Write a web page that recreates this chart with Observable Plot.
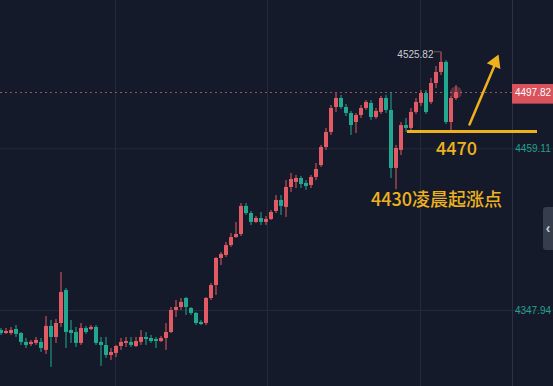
<!DOCTYPE html>
<html><head><meta charset="utf-8">
<script src="https://cdn.jsdelivr.net/npm/d3@7"></script>
<script src="https://cdn.jsdelivr.net/npm/@observablehq/plot@0.6"></script>
<style>
html,body{margin:0;padding:0;background:#141a29;overflow:hidden;}
#chart svg{display:block;}
</style></head><body><div id="chart"></div>
<script>
// OHLC candles (one per bar, left to right)
const open = [4334.2,4332.1,4332.1,4334.9,4332.1,4326.0,4324.6,4325.3,4326.0,4320.5,
4337.0,4329.4,4339.0,4361.7,4334.2,4332.8,4325.3,4335.6,4334.9,4336.3,
4326.0,4323.9,4317.0,4318.4,4323.2,4325.3,4326.0,4323.2,4326.0,4329.4,
4328.7,4328.0,4326.6,4328.7,4332.8,4348.0,4350.0,4356.2,4349.3,4345.9,
4339.7,4339.0,4356.2,4365.1,4383.7,4385.8,4392.6,4398.1,4400.2,4419.5,
4414.6,4408.5,4411.2,4408.5,4410.5,4416.0,4423.6,4418.8,4432.5,4436.0,
4438.7,4435.3,4433.9,4439.4,4447.6,4460.0,4470.3,4487.5,4493.7,4487.5,
4483.4,4477.2,4482.0,4486.8,4490.3,4480.6,4484.1,4493.7,4485.5,4445.6,
4458.0,4475.1,4473.1,4484.1,4490.3,4497.1,4491.0,4504.0,4511.6,4518.5,
4477.2,4493.7];
const close = [4332.1,4333.5,4334.2,4331.5,4326.0,4323.9,4326.0,4327.3,4321.8,4337.0,
4329.4,4339.0,4360.3,4332.8,4332.1,4325.3,4335.6,4332.8,4336.3,4325.3,
4323.9,4317.0,4319.1,4323.2,4326.0,4326.6,4323.9,4326.6,4329.4,4328.0,
4326.6,4326.6,4328.7,4332.8,4348.0,4350.0,4353.5,4350.0,4345.9,4339.0,
4338.3,4356.2,4365.1,4383.7,4386.5,4392.6,4398.1,4400.2,4419.5,4414.6,
4408.5,4411.2,4408.5,4410.5,4415.3,4423.6,4419.5,4432.5,4438.0,4438.7,
4434.6,4433.2,4439.4,4444.9,4460.0,4470.3,4486.8,4493.7,4487.5,4483.4,
4475.1,4482.0,4486.8,4491.0,4480.6,4484.8,4493.7,4485.5,4445.6,4459.3,
4475.1,4473.1,4484.1,4491.0,4497.1,4484.1,4504.0,4511.6,4518.5,4477.2,
4493.7,4497.82];
const high = [4335.6,4335.6,4336.3,4337.6,4332.8,4328.7,4327.3,4329.4,4328.7,4343.8,
4341.1,4341.8,4374.1,4363.1,4341.1,4336.3,4339.0,4337.0,4337.6,4337.6,
4329.4,4329.4,4321.8,4323.9,4328.7,4329.4,4329.4,4329.4,4334.2,4332.8,
4330.8,4329.4,4330.1,4339.0,4350.0,4354.8,4356.2,4356.9,4350.0,4346.6,
4341.1,4356.9,4366.5,4384.4,4387.8,4394.7,4400.9,4408.5,4421.5,4421.5,
4416.0,4412.6,4415.3,4412.6,4416.7,4427.0,4427.0,4437.3,4442.1,4440.8,
4440.1,4437.3,4440.8,4449.0,4461.4,4473.1,4488.9,4497.1,4495.8,4489.6,
4484.8,4483.4,4488.9,4492.3,4492.3,4486.8,4495.1,4495.8,4497.8,4461.4,
4477.2,4480.0,4486.8,4493.7,4499.2,4499.2,4507.5,4515.7,4525.82,4519.8,
4495.1,4502.6];
const low = [4330.8,4331.5,4330.8,4329.4,4323.9,4321.8,4323.2,4323.9,4319.1,4317.7,
4308.8,4325.3,4336.3,4321.8,4325.3,4322.5,4323.9,4331.5,4334.2,4323.9,
4309.5,4315.0,4313.6,4315.6,4320.5,4322.5,4322.5,4322.5,4323.9,4323.9,
4325.3,4321.8,4326.0,4320.5,4332.1,4343.1,4348.0,4344.5,4344.5,4337.6,
4337.6,4337.6,4354.8,4358.3,4378.9,4384.4,4391.3,4397.5,4398.8,4413.3,
4406.4,4407.8,4406.4,4406.4,4409.8,4414.6,4413.3,4411.9,4429.1,4431.8,
4431.8,4430.5,4431.8,4437.3,4446.3,4458.0,4468.3,4484.1,4486.1,4481.3,
4468.3,4469.6,4480.0,4485.5,4478.6,4479.3,4482.7,4483.4,4438.7,4431.0,
4454.5,4470.3,4471.0,4482.7,4488.2,4482.7,4489.6,4500.6,4509.5,4475.8,
4471.7,4492.3];

// axis / annotation values
const priceTicks = [4459.11, 4347.94];
const priceTickLabels = ["4459.11", "4347.94"];
const lastPrice = 4497.82;
const lastPriceLabel = "4497.82";
const highPrice = 4525.82;
const highLabel = "4525.82";
const timeGrid = [22.9, 53.3, 83.9];
const supportLevel = 4471;
const supportLabel = "4470";
const noteLabel = "4430凌晨起涨点";

const BG = "#141a29", UP = "#e25a63", DOWN = "#22a890", GOLD = "#efb21f";
const X0 = -0.1, X1 = 110.5, AXIS_X = 102.3, LABEL_X = 106.4;

const candles = open.map((o, i) => ({i, o, c: close[i], h: high[i], l: low[i]}));
const ups = candles.filter(d => d.c >= d.o);
const downs = candles.filter(d => d.c < d.o);
const last = candles[candles.length - 1];
const hiBar = candles.find(d => d.h === highPrice);

const chart = Plot.plot({
  width: 553, height: 386, margin: 0,
  x: {domain: [X0, X1], axis: null},
  y: {domain: [4295.69, 4561.07], axis: null},
  style: {background: BG, fontFamily: "'Liberation Sans', Arial, sans-serif", overflow: "hidden"},
  marks: [
    Plot.ruleY(priceTicks, {stroke: "#232b3b", strokeWidth: 1}),
    Plot.ruleX(timeGrid, {stroke: "#232b3b", strokeWidth: 1}),
    Plot.ruleX([AXIS_X], {stroke: "#2a3243", strokeWidth: 1}),
    Plot.ruleY([lastPrice], {x1: X0, x2: AXIS_X, stroke: "#9a5560", strokeWidth: 1, strokeDasharray: "2,3"}),
    // wicks
    Plot.ruleX(ups, {x: "i", y1: "l", y2: "h", stroke: UP, strokeWidth: 1}),
    Plot.ruleX(downs, {x: "i", y1: "l", y2: "h", stroke: DOWN, strokeWidth: 1}),
    // bodies
    Plot.ruleX(ups, {x: "i", y1: "o", y2: "c", stroke: UP, strokeWidth: 4}),
    Plot.ruleX(downs, {x: "i", y1: "o", y2: "c", stroke: DOWN, strokeWidth: 4}),
    // glow on last bar
    Plot.dot([last], {x: "i", y: "c", r: 6, fill: UP, fillOpacity: 0.35, stroke: "none"}),
    // high label
    Plot.ruleY([hiBar], {y: "h", x1: d => d.i - 1.2, x2: d => d.i - 0.2, stroke: "#b0a0a8", strokeWidth: 1, strokeDasharray: "1,1"}),
    Plot.text([hiBar], {x: d => d.i - 1.5, y: "h", text: () => highLabel, textAnchor: "end", dy: 3, fill: "#c9ccd3", fontSize: 10}),
    // right axis labels
    Plot.rect([lastPrice], {x1: AXIS_X, x2: X1, y1: d => d - 8, y2: d => d + 5.5, fill: "#d9525c"}),
    Plot.text([lastPrice], {x: LABEL_X, y: d => d, text: () => lastPriceLabel, fill: "#ffffff", fontSize: 10}),
    Plot.text(priceTicks, {x: LABEL_X, y: d => d, text: (d, i) => priceTickLabels[i], fill: "#26a08f", fontSize: 10}),
    // side tab
    Plot.rect([0], {x1: 108.5, x2: 111, y1: 4389.2, y2: 4418.8, fill: "#363d4c", rx: 3}),
    Plot.text([0], {x: 109.4, y: 4404, text: () => "‹", fill: "#c8ccd4", fontSize: 14, fontWeight: "bold"}),
    // yellow annotations
    Plot.ruleY([supportLevel], {x1: 81.3, x2: 107.3, stroke: GOLD, strokeWidth: 3}),
    Plot.text([supportLevel], {x: 91.1, y: 4458.6, text: () => supportLabel, fill: GOLD, fontSize: 18, fontFamily: "'Noto Sans CJK SC', sans-serif", fontWeight: 500}),
    Plot.text([0], {x: 87.1, y: 4423.6, text: () => noteLabel, fill: GOLD, fontSize: 18, fontFamily: "'Noto Sans CJK SC', sans-serif", fontWeight: 500}),
    Plot.arrow([{x1: 93.7, y1: 4475.8, x2: 98.9, y2: 4518.0}], {x1: "x1", y1: "y1", x2: "x2", y2: "y2", stroke: GOLD, strokeWidth: 2.5, headLength: 0}),
    Plot.dot([{x: 98.85, y: 4518.6}], {x: "x", y: "y", symbol: "triangle", r: 5.5, rotate: 23, fill: GOLD, stroke: "none"}),
  ]
});
document.getElementById("chart").append(chart);
</script>
</body></html>
